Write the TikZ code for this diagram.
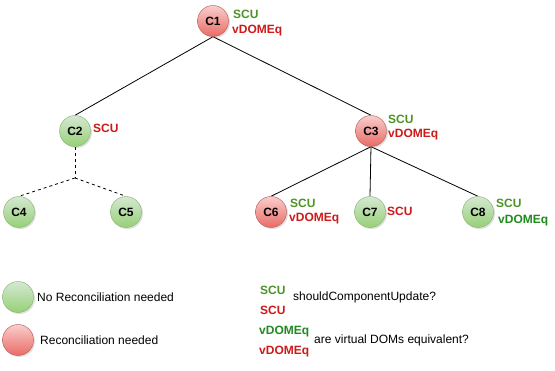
\documentclass[tikz,border=0pt]{standalone}
\usepackage{fontspec}
\setmainfont{Liberation Sans}
\usetikzlibrary{shadows,backgrounds}
\definecolor{scugreen}{HTML}{4D9426}
\definecolor{domgreen}{HTML}{1F8A1F}
\definecolor{labred}{HTML}{CC1A1A}
\definecolor{gtop}{HTML}{D5E8D4}
\definecolor{gbot}{HTML}{97D077}
\definecolor{gline}{HTML}{82B366}
\definecolor{rtop}{HTML}{F8CECC}
\definecolor{rbot}{HTML}{EA6B66}
\definecolor{rline}{HTML}{B85450}
\tikzset{
  comp/.style={circle, minimum size=31pt, inner sep=0pt, font=\bfseries\fontsize{12}{14}\selectfont,
    drop shadow={shadow xshift=1.5pt, shadow yshift=-1.5pt, opacity=0.25}},
  gcomp/.style={comp, draw=gline, top color=gtop, bottom color=gbot},
  rcomp/.style={comp, draw=rline, top color=rtop, bottom color=rbot},
  lab/.style={anchor=west, inner sep=0pt, font=\bfseries\fontsize{12}{14}\selectfont},
  txt/.style={anchor=west, inner sep=0pt, font=\fontsize{12}{14}\selectfont},
  edge/.style={draw=black, line width=0.8pt},
  dedge/.style={draw=black, line width=0.8pt, dash pattern=on 3pt off 3pt}
}
\begin{document}
\begin{tikzpicture}[x=1pt,y=-1pt]
\useasboundingbox (0,0) rectangle (555,371);
\coordinate (split) at (75,178);
\node[rcomp] (C1) at (213,21) {C1};
\node[gcomp] (C2) at (75,131) {C2};
\node[rcomp] (C3) at (371,131) {C3};
\node[gcomp] (C4) at (19,212) {C4};
\node[gcomp] (C5) at (126,212) {C5};
\node[rcomp] (C6) at (271,212) {C6};
\node[gcomp] (C7) at (370,212) {C7};
\node[gcomp] (C8) at (478,212) {C8};
\begin{pgfonlayer}{background}
\fill[white] (0,0) rectangle (555,371);
\draw[edge] (C1.south) -- (C2.north);
\draw[edge] (C1.south) -- (C3.north);
\draw[edge] (C3.south) -- (C6.north);
\draw[edge] (C3.south) -- (C7.north);
\draw[edge] (C3.south) -- (C8.north);
\draw[dedge] (C2.south) -- (split);
\draw[dedge] (split) -- (C4.north);
\draw[dedge] (split) -- (C5.north);
\end{pgfonlayer}
% labels
\node[lab, text=scugreen] (l1a) at (233,14) {SCU};
\node[lab, text=labred] (l1b) at (232,31) {vDOMEq};
\node[lab, text=labred] (l2a) at (93,128) {SCU};
\node[lab, text=scugreen] (l3a) at (388,119) {SCU};
\node[lab, text=labred] (l3b) at (388,135) {vDOMEq};
\node[lab, text=scugreen] (l6a) at (290,203) {SCU};
\node[lab, text=labred] (l6b) at (289,219) {vDOMEq};
\node[lab, text=labred] (l7a) at (387,211) {SCU};
\node[lab, text=scugreen] (l8a) at (496,203) {SCU};
\node[lab, text=domgreen] (l8b) at (498,221) {vDOMEq};
% legend
\node[gcomp] (lg) at (18,297) {};
\node[rcomp] (lr) at (18,340) {};
\node[txt] (tg) at (37,297) {No Reconciliation needed};
\node[txt] (tr) at (40,340) {Reconciliation needed};
\node[lab, text=scugreen] (ls1) at (260,290) {SCU};
\node[lab, text=labred] (ls2) at (260,310) {SCU};
\node[txt] (ts) at (293,297) {shouldComponentUpdate?};
\node[lab, text=domgreen] (ld1) at (259,332) {vDOMEq};
\node[lab, text=labred] (ld2) at (259,352) {vDOMEq};
\node[txt] (td) at (314,340) {are virtual DOMs equivalent?};
\end{tikzpicture}
\end{document}
